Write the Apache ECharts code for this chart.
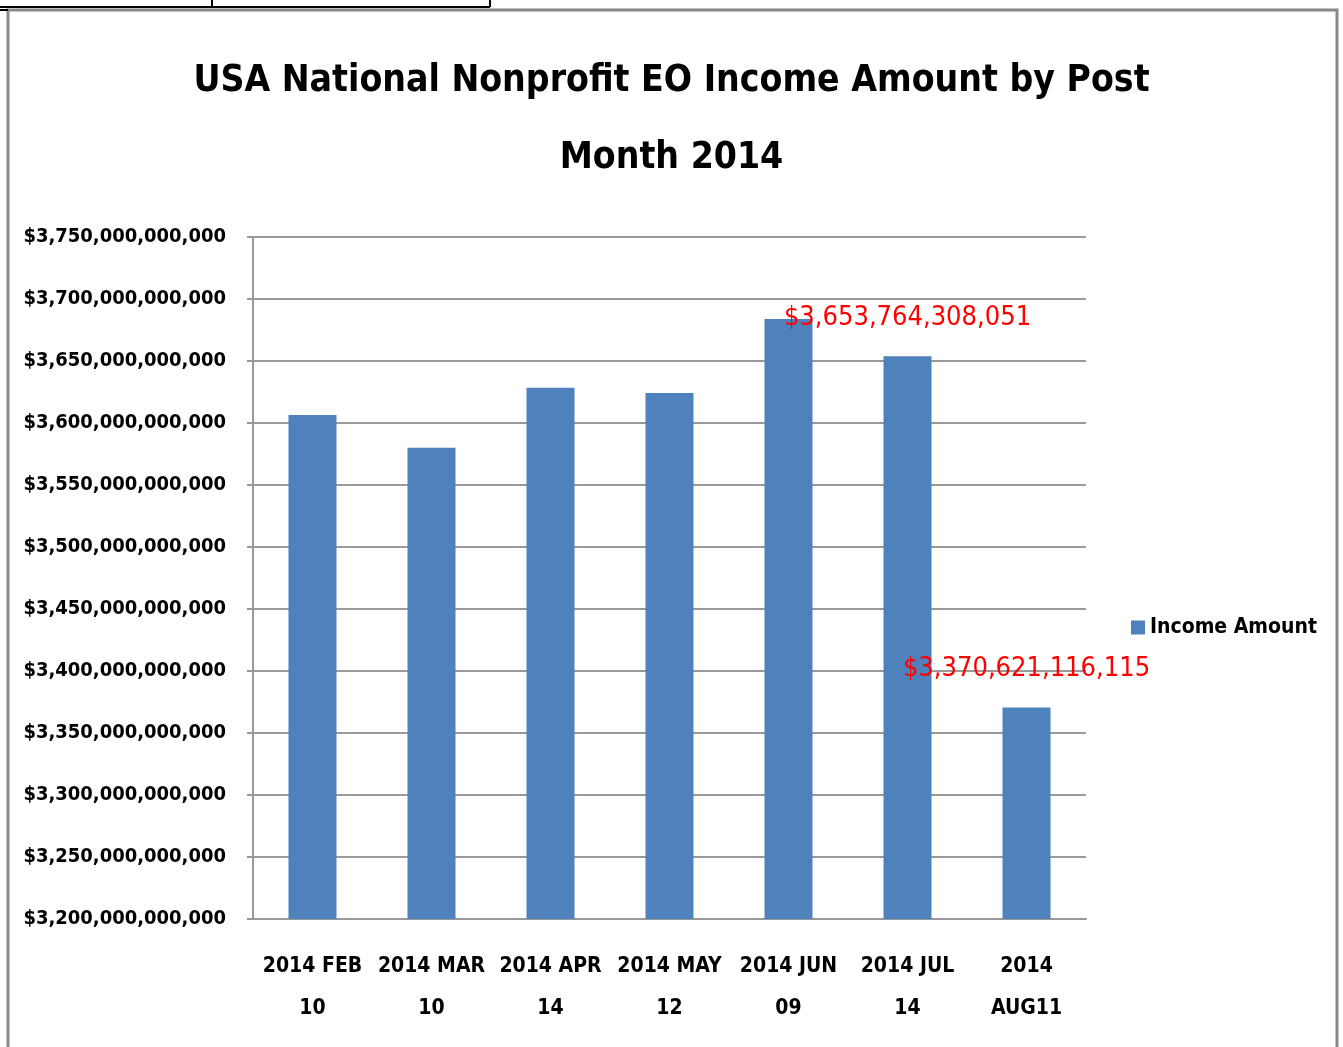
<!DOCTYPE html>
<html>
<head>
<meta charset="utf-8">
<style>
  html, body { margin: 0; padding: 0; background: #fff; }
  #chart { width: 1343px; height: 1047px; }
</style>
<script src="https://cdn.jsdelivr.net/npm/echarts@6/dist/echarts.min.js"></script>
</head>
<body>
<div id="chart"></div>
<script>
// data
var categories = ['2014 FEB\n10', '2014 MAR\n10', '2014 APR\n14', '2014 MAY\n12', '2014 JUN\n09', '2014 JUL\n14', '2014\nAUG11'];
var incomeAmount = [3606500000000, 3580000000000, 3628500000000, 3624200000000, 3683900000000, 3653764308051, 3370621116115];
var labelShown = [false, false, false, false, false, true, true];
var yTicks = { min: 3200000000000, max: 3750000000000, step: 50000000000 };

var FONT = "'DejaVu Sans Condensed', 'Liberation Sans Narrow', sans-serif";

function money(v) {
  return '$' + Math.round(v).toString().replace(/\B(?=(\d{3})+(?!\d))/g, ',');
}

var chart = echarts.init(document.getElementById('chart'));

chart.setOption({
  animation: false,
  backgroundColor: '#fff',
  title: {
    text: 'USA National Nonprofit EO Income Amount by Post\nMonth 2014',
    left: 'center',
    top: 38,
    textStyle: {
      fontFamily: FONT,
      fontSize: 37,
      fontWeight: 'bold',
      lineHeight: 77,
      color: '#000'
    }
  },
  legend: {
    left: 1126,
    top: 612,
    itemWidth: 14,
    itemHeight: 14,
    itemGap: 6,
    icon: 'rect',
    textStyle: { fontFamily: FONT, fontSize: 21, fontWeight: 'bold', color: '#000' },
    data: ['Income Amount']
  },
  grid: { left: 253, top: 237, width: 833, height: 682, outerBoundsMode: 'none', containLabel: false },
  xAxis: {
    type: 'category',
    data: categories,
    axisLine: { lineStyle: { color: '#999', width: 2 } },
    axisTick: { length: 12, lineStyle: { color: '#999', width: 2 } },
    axisLabel: {
      margin: 27,
      interval: 0,
      fontFamily: FONT,
      fontSize: 21,
      fontWeight: 'bold',
      lineHeight: 42,
      color: '#000'
    }
  },
  yAxis: {
    type: 'value',
    min: yTicks.min,
    max: yTicks.max,
    interval: yTicks.step,
    axisLine: { show: true, lineStyle: { color: '#999', width: 2 } },
    axisTick: { show: true, length: 6, lineStyle: { color: '#999', width: 2 } },
    splitLine: { lineStyle: { color: '#999', width: 2 } },
    axisLabel: {
      margin: 27,
      fontFamily: FONT,
      fontSize: 20,
      fontWeight: 'bold',
      color: '#000',
      formatter: money
    }
  },
  series: [
    {
      name: 'Income Amount',
      type: 'bar',
      barWidth: 48,
      itemStyle: { color: '#4F81BD' },
      data: incomeAmount.map(function (v, i) {
        return {
          value: v,
          label: {
            show: labelShown[i],
            position: 'top',
            distance: 25,
            fontFamily: FONT,
            fontSize: 27,
            color: '#FF0000',
            formatter: function (p) { return money(p.value); }
          }
        };
      })
    }
  ],
  graphic: [
    // frame around the chart area
    { type: 'rect', shape: { x: 8, y: 10, width: 1329, height: 1045 }, style: { fill: null, stroke: '#888', lineWidth: 3 } },
    // table rulings above the chart
    { type: 'line', shape: { x1: 0, y1: 7, x2: 490, y2: 7 }, style: { stroke: '#000', lineWidth: 2 } },
    { type: 'line', shape: { x1: 212, y1: 0, x2: 212, y2: 7 }, style: { stroke: '#000', lineWidth: 2 } },
    { type: 'line', shape: { x1: 490, y1: 0, x2: 490, y2: 7 }, style: { stroke: '#000', lineWidth: 2 } },
    { type: 'line', shape: { x1: 0, y1: 10, x2: 8, y2: 10 }, style: { stroke: '#000', lineWidth: 2 } }
  ]
});
</script>
</body>
</html>
